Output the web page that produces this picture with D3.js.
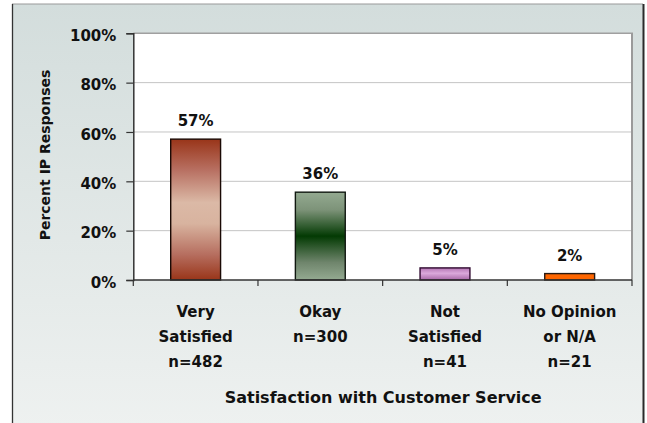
<!DOCTYPE html>
<html>
<head>
<meta charset="utf-8">
<script src="https://cdn.jsdelivr.net/npm/d3@7"></script>
<style>
  html, body { margin: 0; padding: 0; background: #ffffff; }
  svg { display: block; }
  text { font-family: "DejaVu Sans", Verdana, sans-serif; font-weight: bold; fill: #111; }
</style>
</head>
<body>
<svg id="chart" width="647" height="423"></svg>
<script>
// ---- data ----
const categories = ["Very Satisfied", "Okay", "Not Satisfied", "No Opinion or N/A"];
const categoryLines = [["Very", "Satisfied", "n=482"], ["Okay", "n=300"], ["Not", "Satisfied", "n=41"], ["No Opinion", "or N/A", "n=21"]];
const values = [57.1, 35.6, 4.9, 2.6];
const valueLabels = ["57%", "36%", "5%", "2%"];
const yTicks = [0, 20, 40, 60, 80, 100];
const yTitle = "Percent IP Responses";
const xTitle = "Satisfaction with Customer Service";

// ---- layout ----
const W = 647, H = 423;
const plot = { left: 133.3, top: 33.3, right: 632, bottom: 280 };

const svg = d3.select("#chart");
const defs = svg.append("defs");

// frame background gradient
const bg = defs.append("linearGradient").attr("id", "bgGrad")
  .attr("x1", 0).attr("y1", 0).attr("x2", 0).attr("y2", 1);
bg.append("stop").attr("offset", "0%").attr("stop-color", "#d3dddc");
bg.append("stop").attr("offset", "100%").attr("stop-color", "#eef1f0");

function vGrad(id, stops) {
  const g = defs.append("linearGradient").attr("id", id)
    .attr("x1", 0).attr("y1", 0).attr("x2", 0).attr("y2", 1);
  stops.forEach(s => g.append("stop").attr("offset", s[0]).attr("stop-color", s[1]));
}
vGrad("bar0", [["0%", "#993519"], ["22%", "#b87062"], ["45%", "#dbb9a6"], ["60%", "#d8b39f"], ["82%", "#b66e5f"], ["100%", "#993519"]]);
vGrad("bar1", [["0%", "#94aa91"], ["20%", "#7d9379"], ["50%", "#033a03"], ["80%", "#6f856c"], ["100%", "#94aa91"]]);
vGrad("bar2", [["0%", "#b476b4"], ["45%", "#dba8db"], ["100%", "#a868a8"]]);
vGrad("bar3", [["0%", "#ff6600"], ["100%", "#ff6600"]]);
const barFills = ["url(#bar0)", "url(#bar1)", "url(#bar2)", "url(#bar3)"];
const barStrokes = ["#1a0a05", "#101810", "#300a30", "#2a1a10"];

// frame
svg.append("rect").attr("x", 12).attr("y", 4).attr("width", 631).attr("height", H)
  .attr("fill", "url(#bgGrad)");
svg.append("line").attr("x1", 12).attr("x2", 643).attr("y1", 4).attr("y2", 4)
  .attr("stroke", "#9a9a9a").attr("stroke-width", 1.2);
svg.append("line").attr("x1", 12.5).attr("x2", 12.5).attr("y1", 4).attr("y2", H)
  .attr("stroke", "#333").attr("stroke-width", 1.3);
svg.append("line").attr("x1", 643.5).attr("x2", 643.5).attr("y1", 4).attr("y2", H)
  .attr("stroke", "#2a2a2a").attr("stroke-width", 2);

// scales
const x = d3.scaleBand().domain(categories).range([plot.left, plot.right]).paddingInner(0).paddingOuter(0);
const y = d3.scaleLinear().domain([0, 100]).range([plot.bottom, plot.top]);
const barW = x.bandwidth() * 0.4;

// plot area
svg.append("rect").attr("x", plot.left).attr("y", plot.top)
  .attr("width", plot.right - plot.left).attr("height", plot.bottom - plot.top)
  .attr("fill", "#ffffff");

// gridlines
svg.append("g").selectAll("line").data(yTicks.filter(t => t > 0 && t < 100)).join("line")
  .attr("x1", plot.left).attr("x2", plot.right)
  .attr("y1", d => y(d)).attr("y2", d => y(d))
  .attr("stroke", "#c4c4c4").attr("stroke-width", 1);

// top and right plot borders
svg.append("line").attr("x1", plot.left).attr("x2", plot.right + 1).attr("y1", y(100)).attr("y2", y(100))
  .attr("stroke", "#a0a0a0").attr("stroke-width", 1.6);
svg.append("line").attr("x1", plot.right).attr("x2", plot.right).attr("y1", y(100)).attr("y2", plot.bottom)
  .attr("stroke", "#9a9a9a").attr("stroke-width", 2);

// bars
svg.append("g").selectAll("rect").data(values).join("rect")
  .attr("x", (d, i) => x(categories[i]) + (x.bandwidth() - barW) / 2)
  .attr("y", d => y(d))
  .attr("width", barW)
  .attr("height", d => plot.bottom - y(d))
  .attr("fill", (d, i) => barFills[i])
  .attr("stroke", (d, i) => barStrokes[i])
  .attr("stroke-width", 1.4);

// value labels
svg.append("g").selectAll("text").data(values).join("text")
  .attr("x", (d, i) => x(categories[i]) + x.bandwidth() / 2)
  .attr("y", d => y(d) - 13)
  .attr("text-anchor", "middle")
  .attr("font-size", 15)
  .text((d, i) => valueLabels[i]);

// y axis
const yAxis = d3.axisLeft(y).tickValues(yTicks).tickSize(7).tickPadding(10).tickFormat(d => d + "%");
const gy = svg.append("g").attr("transform", `translate(${plot.left},0)`).call(yAxis);
gy.select(".domain").attr("stroke", "#333").attr("stroke-width", 1.5);
gy.selectAll(".tick line").attr("stroke", "#333").attr("stroke-width", 1.2);
gy.selectAll(".tick text").attr("font-size", 15).attr("font-family", "DejaVu Sans").attr("font-weight", "bold")
  .attr("fill", "#111").attr("dy", "0.48em");

// x axis line and boundary ticks
const boundaries = categories.map(c => x(c)).concat([plot.right]);
svg.append("line").attr("x1", plot.left).attr("x2", plot.right).attr("y1", plot.bottom).attr("y2", plot.bottom)
  .attr("stroke", "#333").attr("stroke-width", 1.5);
svg.append("g").selectAll("line").data(boundaries).join("line")
  .attr("x1", d => d).attr("x2", d => d)
  .attr("y1", plot.bottom).attr("y2", plot.bottom + 6)
  .attr("stroke", "#333").attr("stroke-width", 1.2);

// category labels
const catG = svg.append("g").selectAll("text").data(categories).join("text")
  .attr("text-anchor", "middle")
  .attr("font-size", 15);
catG.each(function (c, i) {
  const t = d3.select(this);
  categoryLines[i].forEach((line, j) => {
    t.append("tspan").attr("x", x(c) + x.bandwidth() / 2).attr("y", 316.7 + j * 25).text(line);
  });
});

// axis titles
svg.append("text").attr("x", (plot.left + plot.right) / 2 + 0.5).attr("y", 402.7)
  .attr("text-anchor", "middle").attr("font-size", 16).text(xTitle);
svg.append("text").attr("transform", `translate(50,155) rotate(-90)`)
  .attr("text-anchor", "middle").attr("font-size", 14).text(yTitle);
</script>
</body>
</html>
